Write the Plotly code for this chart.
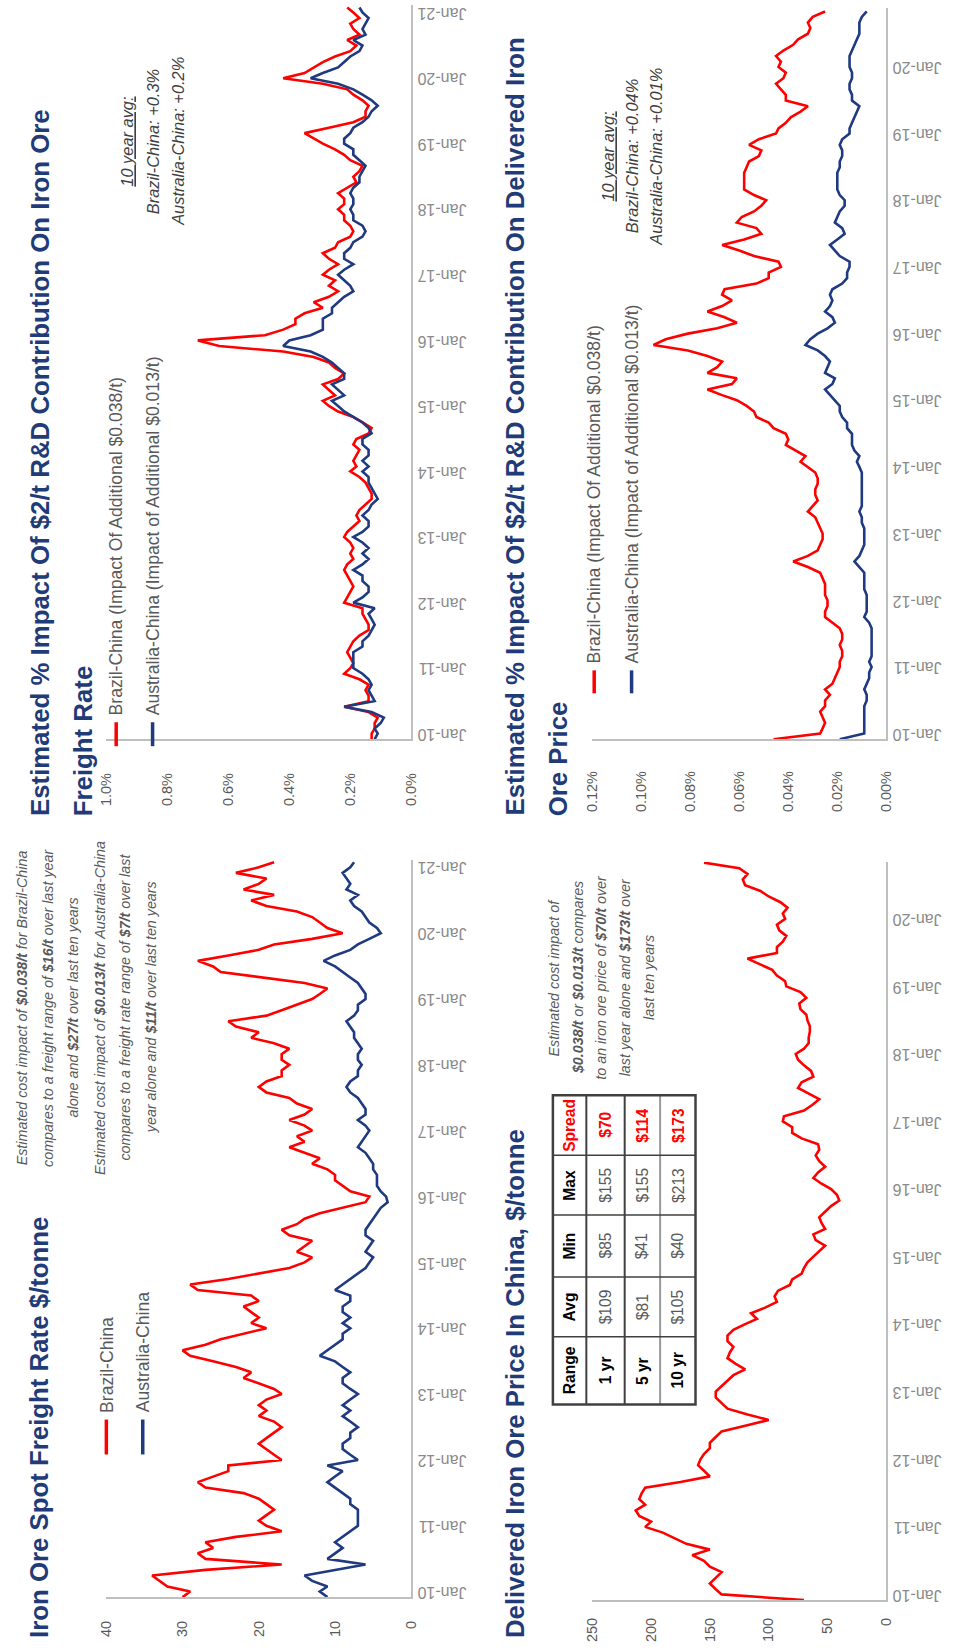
import subprocess
import pandas as pd
import plotly.graph_objects as go

# ---------------- data ----------------
dates_left = pd.date_range("2010-01-01", "2021-03-01", freq="MS")   # monthly, Jan-10 .. Mar-21
dates_right = pd.date_range("2010-01-01", "2020-12-01", freq="MS")  # monthly, Jan-10 .. Dec-20

# Iron ore spot freight rate, $/tonne
brazil_freight = [
    30, 29, 32, 33, 34, 27, 17, 27, 28, 26, 27, 23,
    17, 19, 20, 19, 18, 19, 20, 22, 27, 28, 26, 24,
    24, 17, 18, 19, 20, 19, 18, 17, 18, 20, 19, 20,
    19, 17, 18, 20, 22, 21, 23, 26, 29, 30, 27, 25,
    22, 19, 21, 20, 21, 22, 20, 21, 28, 29, 24, 20,
    16, 14, 13, 15, 14, 13, 16, 17, 15, 14, 12, 9,
    6, 5.5, 8, 9, 10, 10, 11, 13, 12, 14, 16, 14,
    15, 13, 14, 16, 14, 13, 15, 16, 19, 20, 19, 17,
    17, 16, 17, 17, 16, 18, 21, 20, 23, 24, 19, 17,
    15, 13, 12, 11, 14, 20, 25, 26, 28, 24, 20, 18,
    13, 9, 11, 12, 13, 15, 19, 21, 18, 22, 20, 19,
    23, 20, 18]
australia_freight = [
    11, 12, 11, 13, 14, 10, 6, 11, 10, 9, 10, 9,
    8, 7, 7, 7, 7, 8, 8, 9, 10, 11, 10, 9,
    11, 7, 8, 9, 9, 8, 8, 7, 8, 9, 8, 9,
    8, 7, 8, 9, 9, 8, 9, 10, 12, 11, 10, 9,
    9, 8, 9, 8, 9, 9, 8, 8, 10, 9, 8, 7,
    6, 5.5, 5, 6, 5.5, 5, 6, 6, 5.5, 5, 4.5, 4,
    3.1, 3.3, 4, 4.5, 4.5, 4.5, 5, 5, 5.5, 6, 7, 6.5,
    6, 5.5, 6, 7, 6, 6, 6.5, 7, 8, 8.5, 8, 7,
    7, 6.5, 7, 7, 6.5, 7, 7.5, 7.5, 8, 8.5, 7.5, 7,
    7, 6, 6, 6.5, 7, 8, 9, 10, 11.5, 10, 8, 7,
    5.5, 4, 4.5, 5.5, 6, 6.5, 7.5, 8, 7, 8.5, 8, 8.5,
    9, 8, 7.5]

# Estimated % impact on freight rate
brazil_freight_pct = [
    0.13, 0.13, 0.12, 0.12, 0.11, 0.14, 0.22, 0.14, 0.14, 0.15, 0.14, 0.17,
    0.22, 0.20, 0.19, 0.20, 0.21, 0.20, 0.19, 0.17, 0.14, 0.14, 0.15, 0.16,
    0.16, 0.22, 0.21, 0.20, 0.19, 0.20, 0.21, 0.22, 0.21, 0.19, 0.20, 0.19,
    0.20, 0.22, 0.21, 0.19, 0.17, 0.18, 0.17, 0.15, 0.13, 0.13, 0.14, 0.15,
    0.17, 0.20, 0.18, 0.19, 0.18, 0.17, 0.19, 0.18, 0.14, 0.13, 0.16, 0.19,
    0.24, 0.27, 0.29, 0.25, 0.27, 0.29, 0.24, 0.22, 0.25, 0.27, 0.32, 0.42,
    0.63, 0.70, 0.48, 0.42, 0.38, 0.38, 0.35, 0.29, 0.32, 0.27, 0.24, 0.27,
    0.25, 0.29, 0.27, 0.24, 0.27, 0.29, 0.25, 0.24, 0.20, 0.19, 0.20, 0.22,
    0.22, 0.24, 0.22, 0.22, 0.24, 0.21, 0.18, 0.19, 0.17, 0.16, 0.20, 0.22,
    0.25, 0.29, 0.32, 0.35, 0.27, 0.19, 0.15, 0.15, 0.14, 0.16, 0.19, 0.21,
    0.29, 0.42, 0.35, 0.32, 0.29, 0.25, 0.20, 0.18, 0.21, 0.17, 0.19, 0.20,
    0.17, 0.19, 0.21]
australia_freight_pct = [
    0.12, 0.11, 0.12, 0.10, 0.09, 0.13, 0.22, 0.12, 0.13, 0.14, 0.13, 0.14,
    0.16, 0.19, 0.19, 0.19, 0.19, 0.16, 0.16, 0.14, 0.13, 0.12, 0.13, 0.14,
    0.12, 0.19, 0.16, 0.14, 0.14, 0.16, 0.16, 0.19, 0.16, 0.14, 0.16, 0.14,
    0.16, 0.19, 0.16, 0.14, 0.14, 0.16, 0.14, 0.13, 0.11, 0.12, 0.13, 0.14,
    0.14, 0.16, 0.14, 0.16, 0.14, 0.14, 0.16, 0.16, 0.13, 0.14, 0.16, 0.19,
    0.22, 0.24, 0.26, 0.22, 0.24, 0.26, 0.22, 0.22, 0.24, 0.26, 0.29, 0.33,
    0.42, 0.40, 0.33, 0.29, 0.29, 0.29, 0.26, 0.26, 0.24, 0.22, 0.19, 0.20,
    0.22, 0.24, 0.22, 0.19, 0.22, 0.22, 0.20, 0.19, 0.16, 0.15, 0.16, 0.19,
    0.19, 0.20, 0.19, 0.19, 0.20, 0.19, 0.17, 0.17, 0.16, 0.15, 0.17, 0.19,
    0.19, 0.22, 0.22, 0.20, 0.19, 0.16, 0.14, 0.13, 0.11, 0.13, 0.16, 0.19,
    0.24, 0.33, 0.29, 0.24, 0.22, 0.20, 0.17, 0.16, 0.19, 0.15, 0.16, 0.15,
    0.14, 0.16, 0.17]

# Delivered iron ore price in China, $/tonne
delivered_price = [
    70, 140, 145, 150, 145, 140, 150, 155, 165, 150, 170, 180,
    190, 205, 200, 210, 213, 205, 210, 208, 205, 175, 150, 155,
    160, 158, 155, 150, 150, 145, 140, 120, 100, 118, 135, 140,
    145, 145, 140, 135, 130, 120, 128, 135, 133, 130, 135, 135,
    130, 120, 110, 115, 103, 93, 95, 92, 82, 80, 72, 70,
    67, 62, 57, 52, 60, 62, 52, 55, 57, 52, 47, 40,
    42, 47, 55, 62, 58, 52, 57, 60, 57, 58, 72, 80,
    80, 88, 87, 70, 63, 57, 66, 75, 72, 62, 64, 70,
    75, 77, 70, 66, 66, 65, 65, 67, 68, 73, 74, 68,
    73, 85, 86, 93, 97, 108, 118, 93, 93, 88, 85, 91,
    93, 86, 88, 84, 90, 100, 107, 120, 122, 118, 125, 155]

# Estimated % impact on delivered iron ore price
brazil_price_pct = [
    0.046, 0.027, 0.026, 0.025, 0.026, 0.027, 0.025, 0.025, 0.023, 0.025, 0.022, 0.021,
    0.020, 0.019, 0.019, 0.018, 0.018, 0.019, 0.018, 0.018, 0.019, 0.022, 0.025, 0.025,
    0.024, 0.024, 0.025, 0.025, 0.025, 0.026, 0.027, 0.032, 0.038, 0.032, 0.028, 0.027,
    0.026, 0.026, 0.027, 0.028, 0.029, 0.032, 0.030, 0.028, 0.029, 0.029, 0.028, 0.028,
    0.029, 0.032, 0.035, 0.033, 0.037, 0.041, 0.040, 0.041, 0.046, 0.048, 0.053, 0.054,
    0.057, 0.061, 0.067, 0.073, 0.063, 0.061, 0.073, 0.069, 0.067, 0.073, 0.081, 0.095,
    0.090, 0.081, 0.069, 0.061, 0.066, 0.073, 0.067, 0.063, 0.067, 0.066, 0.053, 0.048,
    0.048, 0.043, 0.044, 0.054, 0.060, 0.067, 0.058, 0.051, 0.053, 0.061, 0.059, 0.054,
    0.051, 0.049, 0.054, 0.058, 0.058, 0.058, 0.058, 0.057, 0.056, 0.052, 0.051, 0.056,
    0.052, 0.045, 0.044, 0.041, 0.039, 0.035, 0.032, 0.041, 0.041, 0.043, 0.045, 0.042,
    0.041, 0.044, 0.043, 0.045, 0.042, 0.038, 0.036, 0.032, 0.031, 0.032, 0.030, 0.025]
australia_price_pct = [
    0.019, 0.009, 0.009, 0.009, 0.009, 0.009, 0.009, 0.008, 0.008, 0.009, 0.008, 0.007,
    0.007, 0.006, 0.007, 0.006, 0.006, 0.006, 0.006, 0.006, 0.006, 0.007, 0.009, 0.008,
    0.008, 0.008, 0.008, 0.009, 0.009, 0.009, 0.009, 0.011, 0.013, 0.011, 0.010, 0.009,
    0.009, 0.009, 0.009, 0.010, 0.010, 0.011, 0.010, 0.010, 0.010, 0.010, 0.010, 0.010,
    0.010, 0.011, 0.012, 0.011, 0.013, 0.014, 0.014, 0.014, 0.016, 0.016, 0.018, 0.019,
    0.019, 0.021, 0.023, 0.025, 0.022, 0.021, 0.025, 0.024, 0.023, 0.025, 0.028, 0.033,
    0.031, 0.028, 0.024, 0.021, 0.022, 0.025, 0.023, 0.022, 0.023, 0.022, 0.018, 0.016,
    0.016, 0.015, 0.015, 0.019, 0.021, 0.023, 0.020, 0.017, 0.018, 0.021, 0.020, 0.019,
    0.017, 0.017, 0.019, 0.020, 0.020, 0.020, 0.020, 0.019, 0.019, 0.018, 0.018, 0.019,
    0.018, 0.015, 0.015, 0.014, 0.013, 0.012, 0.011, 0.014, 0.014, 0.015, 0.015, 0.014,
    0.014, 0.015, 0.015, 0.015, 0.014, 0.013, 0.012, 0.011, 0.011, 0.011, 0.010, 0.008]

# Summary table
table_header = ["Range", "Avg", "Min", "Max", "Spread"]
table_rows = [
    ["1 yr", "$109", "$85", "$155", "$70"],
    ["5 yr", "$81", "$41", "$155", "$114"],
    ["10 yr", "$105", "$40", "$213", "$173"],
]

# ---------------- style ----------------
W, H = 973, 1648
RED = "#FF0000"
BLUE = "#1F3A80"
NAVY = "#1F3B78"
GREY_TXT = "#595959"
AXIS = "#BFBFBF"

try:
    fams = subprocess.run(["fc-list", ":", "family"], capture_output=True, text=True).stdout
except Exception:
    fams = ""
if "Liberation Sans Narrow" in fams:
    NF, K = "Liberation Sans Narrow", 1.0
else:
    NF, K = "Liberation Sans", 0.82


def fx(p):
    return p / W


def fy(p):
    return 1 - p / H


fig = go.Figure()


def line(x, y, color, xa, ya):
    fig.add_trace(go.Scatter(x=x, y=y, xaxis=xa, yaxis=ya, mode="lines",
                             line=dict(color=color, width=2.6), showlegend=False,
                             hoverinfo="skip"))


line(brazil_freight_pct, dates_left, RED, "x", "y")
line(australia_freight_pct, dates_left, BLUE, "x", "y")
line(brazil_freight, dates_left, RED, "x2", "y2")
line(australia_freight, dates_left, BLUE, "x2", "y2")
line(brazil_price_pct, dates_right, RED, "x3", "y3")
line(australia_price_pct, dates_right, BLUE, "x3", "y3")
line(delivered_price, dates_right, RED, "x4", "y4")

tickfont_val = dict(family="Liberation Sans", size=14.5, color=GREY_TXT)
tickfont_date = dict(family="Liberation Sans", size=16, color="#8A8A8A")


def xaxis(dom, rng, tv, tt, anchor, standoff):
    return dict(domain=[fx(dom[0]), fx(dom[1])], range=rng, tickvals=tv, ticktext=tt,
                anchor=anchor, tickangle=-90, showline=True, linecolor=AXIS, linewidth=2,
                showgrid=False, zeroline=False, ticks="", tickfont=tickfont_val,
                ticklabelstandoff=standoff, fixedrange=True)


def yaxis(dom, rng, anchor):
    return dict(domain=[fy(dom[1]), fy(dom[0])], range=rng, type="date", side="right",
                anchor=anchor, tickformat="%b-%y", dtick="M12", tick0="2010-01-01",
                tickangle=180, showline=True, linecolor=AXIS, linewidth=2,
                showgrid=False, zeroline=False, ticks="", tickfont=tickfont_date,
                ticklabelstandoff=50)


pct1 = [0, 0.2, 0.4, 0.6, 0.8, 1.0]
pct2 = [0, 0.02, 0.04, 0.06, 0.08, 0.10, 0.12]
fig.update_layout(
    width=W, height=H, margin=dict(l=0, r=0, t=0, b=0),
    paper_bgcolor="white", plot_bgcolor="white", showlegend=False,
    xaxis=xaxis((100, 410), [1.0, 0], pct1, ["%.1f%%" % v for v in pct1], "y", 26),
    yaxis=yaxis((5, 741), ["2010-01-01", "2021-03-15"], "x"),
    xaxis2=xaxis((100, 410), [40, 0], [0, 10, 20, 30, 40],
                 ["0", "10", "20", "30", "40"], "y2", 16),
    yaxis2=yaxis((862, 1601), ["2010-01-01", "2021-03-14"], "x2"),
    xaxis3=xaxis((594, 893), [0.12, 0], pct2, ["%.2f%%" % v for v in pct2], "y3", 24),
    yaxis3=yaxis((8, 741), ["2010-01-01", "2020-12-20"], "x3"),
    xaxis4=xaxis((594, 893), [250, 0], [0, 50, 100, 150, 200, 250],
                 ["0", "50", "100", "150", "200", "250"], "y4", 10),
    yaxis4=yaxis((864, 1604), ["2010-01-01", "2020-12-05"], "x4"),
)


def txt(x, y, text, size, color=GREY_TXT, yanchor="middle", family=None):
    fig.add_annotation(x=fx(x), y=fy(y), xref="paper", yref="paper", text=text,
                       textangle=-90, showarrow=False, xanchor="center", yanchor=yanchor,
                       font=dict(family=family or NF, size=size, color=color))


# titles (read bottom-to-top)
TS = round(31.5 * K, 1)
txt(31, 1644, "<b>Iron Ore Spot Freight Rate $/tonne</b>", TS, NAVY, "bottom")
txt(515, 1644, "<b>Delivered Iron Ore Price In China, $/tonne</b>", TS, NAVY, "bottom")
txt(32, 820, "<b>Estimated % Impact Of $2/t R&amp;D Contribution On Iron Ore</b>", TS, NAVY, "bottom")
txt(76, 820, "<b>Freight Rate</b>", TS, NAVY, "bottom")
txt(515, 820, "<b>Estimated % Impact Of $2/t R&amp;D Contribution On Delivered Iron</b>", TS, NAVY, "bottom")
txt(559, 820, "<b>Ore Price</b>", TS, NAVY, "bottom")

# legends (shape swatch + text)
LS = round(21.5 * K, 1)


def legend(x, y0, y1, color, label):
    fig.add_shape(type="line", xref="paper", yref="paper", x0=fx(x), x1=fx(x),
                  y0=fy(y0), y1=fy(y1), line=dict(color=color, width=3.5))
    txt(x, y0 - 5, label, LS, GREY_TXT, "bottom")


legend(100, 1423, 1458, RED, "Brazil-China")
legend(137, 1423, 1458, BLUE, "Australia-China")
legend(110, 724, 748, RED, "Brazil-China (Impact Of Additional $0.038/t)")
legend(147, 724, 748, BLUE, "Australia-China (Impact of Additional $0.013/t)")
legend(596, 672, 695, RED, "Brazil-China (Impact Of Additional $0.038/t)")
legend(634, 672, 695, BLUE, "Australia-China (Impact of Additional $0.013/t)")

# explanatory notes
NS = round(17.5 * K, 1)
notes_bl = [
    (14, "<i>Estimated cost impact of <b>$0.038/t</b> for Brazil-China</i>"),
    (40, "<i>compares to a freight range of <b>$16/t</b> over last year</i>"),
    (66, "<i>alone and <b>$27/t</b> over last ten years</i>"),
    (93, "<i>Estimated cost impact of <b>$0.013/t</b> for Australia-China</i>"),
    (119, "<i>compares to a freight rate range of <b>$7/t</b> over last</i>"),
    (145, "<i>year alone and <b>$11/t</b> over last ten years</i>"),
]
for x, t in notes_bl:
    txt(x, 1010, t, NS)

notes_br = [
    (555, "<i>Estimated cost impact of</i>"),
    (579, "<i><b>$0.038/t</b> or <b>$0.013/t</b> compares</i>"),
    (603, "<i>to an iron ore price of <b>$70/t</b> over</i>"),
    (627, "<i>last year alone and <b>$173/t</b> over</i>"),
    (651, "<i>last ten years</i>"),
]
for x, t in notes_br:
    txt(x, 980, t, NS)

AS = round(20 * K, 1)
for x, t in [(121, "<i><u>10 year avg:</u></i>"), (147, "<i>Brazil-China: +0.3%</i>"),
             (173, "<i>Australia-China: +0.2%</i>")]:
    txt(x, 142, t, AS, "#404040")
for x, t in [(610, "<i><u>10 year avg:</u></i>"), (634, "<i>Brazil-China: +0.04%</i>"),
             (658, "<i>Australia-China: +0.01%</i>")]:
    txt(x, 157, t, AS, "#404040")

# table (rotated like the rest of the page)
col_x = [554, 588, 627, 663, 699]          # header | 1 yr | 5 yr | 10 yr
row_y = [1408, 1340, 1280, 1218, 1158, 1098]  # Range | Avg | Min | Max | Spread
for xv in col_x[1:-1]:
    fig.add_shape(type="line", xref="paper", yref="paper", x0=fx(xv), x1=fx(xv),
                  y0=fy(row_y[0]), y1=fy(row_y[-1]),
                  line=dict(color="#9A9A9A" if xv == 663 else "#404040", width=2))
for yv in row_y[1:-1]:
    fig.add_shape(type="line", xref="paper", yref="paper", x0=fx(col_x[0]), x1=fx(col_x[-1]),
                  y0=fy(yv), y1=fy(yv), line=dict(color="#404040", width=1.5))
fig.add_shape(type="rect", xref="paper", yref="paper", x0=fx(col_x[0]), x1=fx(col_x[-1]),
              y0=fy(row_y[0]), y1=fy(row_y[-1]), line=dict(color="#404040", width=2.5))

TBS = round(19 * K, 1)
cx = [(col_x[i] + col_x[i + 1]) / 2 for i in range(4)]
cy = [(row_y[i] + row_y[i + 1]) / 2 for i in range(5)]
for j, h in enumerate(table_header):
    col = RED if h == "Spread" else "#000000"
    txt(cx[0], cy[j], "<b>%s</b>" % h, TBS, col)
for i, row in enumerate(table_rows):
    for j, v in enumerate(row):
        if j == 0:
            txt(cx[i + 1], cy[j], "<b>%s</b>" % v, TBS, "#000000")
        elif j == 4:
            txt(cx[i + 1], cy[j], "<b>%s</b>" % v, TBS, RED)
        else:
            txt(cx[i + 1], cy[j], v, TBS, GREY_TXT)

fig.write_html("out.html")
